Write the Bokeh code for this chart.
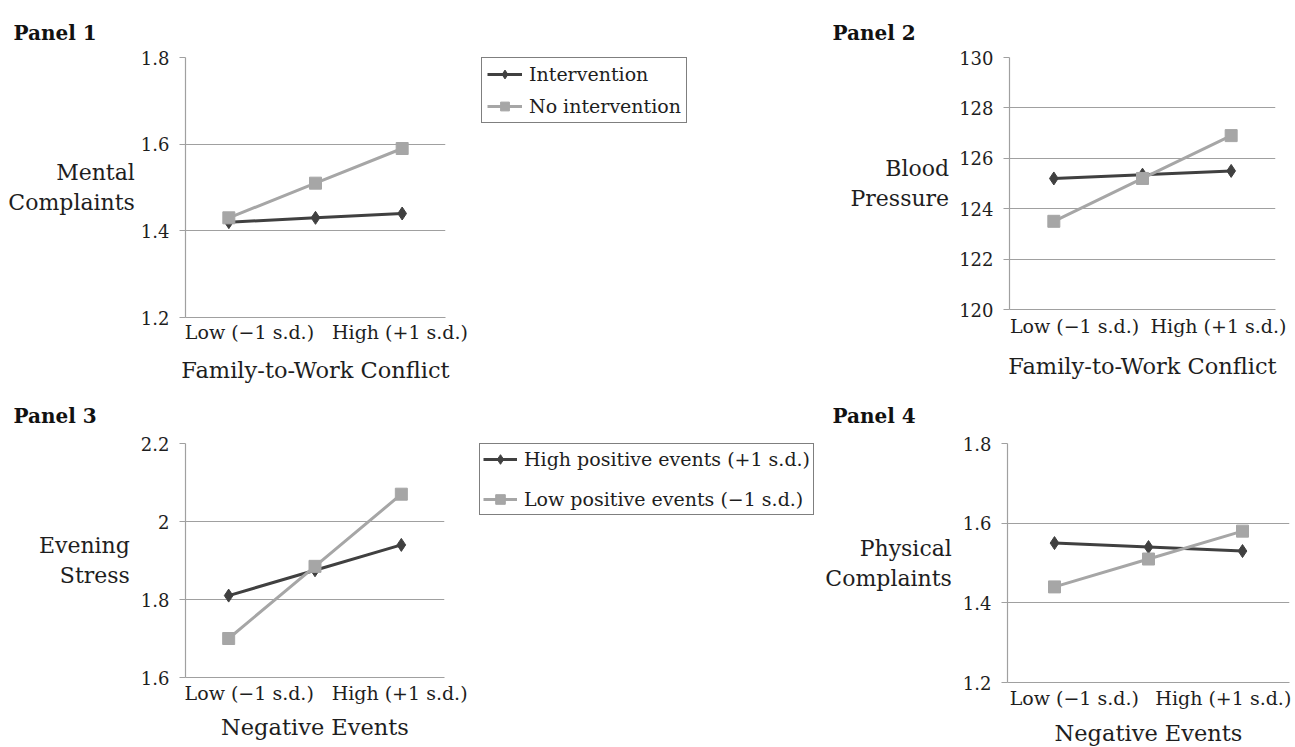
from bokeh.plotting import figure
from bokeh.models import (Range1d, FixedTicker, Legend, LegendItem, NumeralTickFormatter)
from bokeh.layouts import column, row
from bokeh.embed import file_html
from bokeh.resources import INLINE

# ---------------- data ----------------
levels = [0, 1, 2]  # Low (−1 s.d.), mean, High (+1 s.d.)
x_tick_labels = ["Low (−1 s.d.)", "High (+1 s.d.)"]

p1_intervention = [1.42, 1.43, 1.44]
p1_no_intervention = [1.43, 1.51, 1.59]
p2_intervention = [125.2, 125.35, 125.5]
p2_no_intervention = [123.5, 125.2, 126.9]
p3_high_positive = [1.81, 1.875, 1.94]
p3_low_positive = [1.70, 1.885, 2.07]
p4_high_positive = [1.55, 1.54, 1.53]
p4_low_positive = [1.44, 1.51, 1.58]

legend_a = ["Intervention", "No intervention"]
legend_b = ["High positive events (+1 s.d.)", "Low positive events (−1 s.d.)"]

p1_yticks = [1.2, 1.4, 1.6, 1.8]
p2_yticks = [120, 122, 124, 126, 128, 130]
p3_yticks = [1.6, 1.8, 2.0, 2.2]
p4_yticks = [1.2, 1.4, 1.6, 1.8]

titles = ["Panel 1", "Panel 2", "Panel 3", "Panel 4"]
y_titles = ["Mental\nComplaints", "Blood\nPressure", "Evening\nStress", "Physical\nComplaints"]
x_titles = ["Family-to-Work Conflict", "Family-to-Work Conflict", "Negative Events", "Negative Events"]

FONT = "DejaVu Serif"
DARK = "#404040"
LIGHT = "#a6a6a6"
GRID = "#a0a0a0"
TXT = "#1e1e1e"


def style_series(p, ys_dark, ys_light):
    r_dark_l = p.line(levels, ys_dark, line_color=DARK, line_width=3)
    r_dark_m = p.scatter(levels, ys_dark, marker="diamond", size=13,
                         fill_color=DARK, line_color=DARK)
    r_light_l = p.line(levels, ys_light, line_color=LIGHT, line_width=3)
    r_light_m = p.scatter(levels, ys_light, marker="square", size=12,
                          fill_color=LIGHT, line_color=LIGHT)
    return (r_dark_l, r_dark_m), (r_light_l, r_light_m)


def make_panel(ys_dark, ys_light, yticks, fw, fh, borders, xtick_pos, title, title_off,
               title_standoff, ytitle, ytitle_standoff, xtitle, label_standoff,
               xtitle_standoff, fmt=None):
    L, R, T, B = borders
    p = figure(frame_width=fw, frame_height=fh, output_backend="svg", toolbar_location=None,
               x_range=Range1d(-0.5, 2.5), y_range=Range1d(yticks[0], yticks[-1]),
               min_border_left=L, min_border_right=R, min_border_top=T, min_border_bottom=B)
    p.outline_line_color = None
    p.background_fill_color = "white"
    p.border_fill_color = "white"
    p.xgrid.grid_line_color = None
    p.ygrid.grid_line_color = GRID
    p.ygrid.grid_line_width = 1.2
    p.yaxis.ticker = FixedTicker(ticks=yticks)
    p.ygrid.ticker = FixedTicker(ticks=yticks)
    if fmt is not None:
        p.yaxis.formatter = fmt
    p.yaxis.axis_line_color = GRID
    p.yaxis.axis_line_width = 1.2
    p.yaxis.major_tick_line_color = GRID
    p.yaxis.major_tick_line_width = 1.2
    p.yaxis.major_tick_out = 6
    p.yaxis.major_tick_in = 0
    p.yaxis.minor_tick_line_color = None
    p.yaxis.major_label_standoff = 10
    p.yaxis.major_label_text_font = FONT
    p.yaxis.major_label_text_font_size = "18px"
    p.yaxis.major_label_text_color = TXT

    ax = p.yaxis[0]
    ax.axis_label = ytitle
    ax.axis_label_text_font = FONT
    ax.axis_label_text_font_style = "normal"
    ax.axis_label_text_font_size = "22px"
    ax.axis_label_text_color = TXT
    ax.axis_label_text_line_height = 1.2
    ax.axis_label_text_align = "center"
    ax.axis_label_standoff = ytitle_standoff
    if "axis_label_orientation" in ax.properties():
        ax.axis_label_orientation = "horizontal"

    p.xaxis.ticker = FixedTicker(ticks=xtick_pos)
    p.xaxis.major_label_overrides = {xtick_pos[0]: x_tick_labels[0], xtick_pos[1]: x_tick_labels[1]}
    p.xaxis.axis_line_color = GRID
    p.xaxis.axis_line_width = 1.2
    p.xaxis.major_tick_line_color = None
    p.xaxis.minor_tick_line_color = None
    p.xaxis.major_tick_out = 0
    p.xaxis.major_label_standoff = label_standoff
    p.xaxis.major_label_text_font = FONT
    p.xaxis.major_label_text_font_size = "19px"
    p.xaxis.major_label_text_color = TXT
    p.xaxis.axis_label = xtitle
    p.xaxis.axis_label_text_font = FONT
    p.xaxis.axis_label_text_font_style = "normal"
    p.xaxis.axis_label_text_font_size = "22.5px"
    p.xaxis.axis_label_text_color = TXT
    p.xaxis.axis_label_standoff = xtitle_standoff

    p.title.text = title
    p.title.align = "left"
    p.title.offset = title_off
    p.title.standoff = title_standoff
    p.title.text_font = FONT
    p.title.text_font_style = "bold"
    p.title.text_font_size = "20px"
    p.title.text_color = "#111111"

    style_series(p, ys_dark, ys_light)
    return p


def legend_box(width, height, left, top, ys_dark, ys_light, labels, spacing, padding,
               glyph_w, gh, standoff):
    p = figure(width=width, height=height, output_backend="svg", toolbar_location=None,
               x_axis_location=None, y_axis_location=None,
               min_border_left=left, min_border_top=top, min_border_right=0, min_border_bottom=0,
               x_range=Range1d(10, 11), y_range=Range1d(10, 11))
    p.outline_line_color = None
    p.background_fill_color = "white"
    p.border_fill_color = "white"
    p.grid.visible = False
    # series drawn outside this panel's ranges: only their legend glyphs show
    rd, rl = style_series(p, ys_dark, ys_light)
    leg = Legend(items=[LegendItem(label=labels[0], renderers=list(rd)),
                        LegendItem(label=labels[1], renderers=list(rl))],
                 location="top_left", margin=0, padding=padding, spacing=spacing,
                 glyph_width=glyph_w, glyph_height=gh, label_height=gh,
                 label_standoff=standoff, label_text_font=FONT, label_text_font_size="19px",
                 label_text_color=TXT,
                 border_line_color="#000000", border_line_width=1.5,
                 background_fill_color="white", background_fill_alpha=1.0)
    p.add_layout(leg, "center")
    return p


p1 = make_panel(p1_intervention, p1_no_intervention, p1_yticks, 260, 260,
                (185, 30, 52, 71), [0.238, 1.975], titles[0], -172, 25,
                y_titles[0], 3, x_titles[0], 3, 11)
leg1 = legend_box(345, 383, 6, 57, p1_intervention, p1_no_intervention, legend_a,
                  10, 5, 35, 22, 7)
p2 = make_panel(p2_intervention, p2_no_intervention, p2_yticks, 266, 252,
                (189, 19, 52, 79), [0.233, 1.857], titles[1], -177, 25,
                y_titles[1], 7, x_titles[1], 5, 13)

p3 = make_panel(p3_high_positive, p3_low_positive, p3_yticks, 259, 234,
                (185, 31, 59, 70), [0.238, 1.98], titles[2], -172, 31,
                y_titles[2], 8, x_titles[2], 4, 7,
                fmt=NumeralTickFormatter(format="0.[0]"))
leg2 = legend_box(345, 363, 4, 54, p3_high_positive, p3_low_positive, legend_b,
                  16, 3, 34, 24, 7)
p4 = make_panel(p4_high_positive, p4_low_positive, p4_yticks, 282, 239,
                (187, 4, 60, 64), [0.21, 1.796], titles[3], -175, 32,
                y_titles[3], 8, x_titles[3], 4, 8)

layout = column(row(p1, leg1, p2, spacing=0), row(p3, leg2, p4, spacing=0), spacing=0)

open("out.html", "w").write(file_html(layout, INLINE))
